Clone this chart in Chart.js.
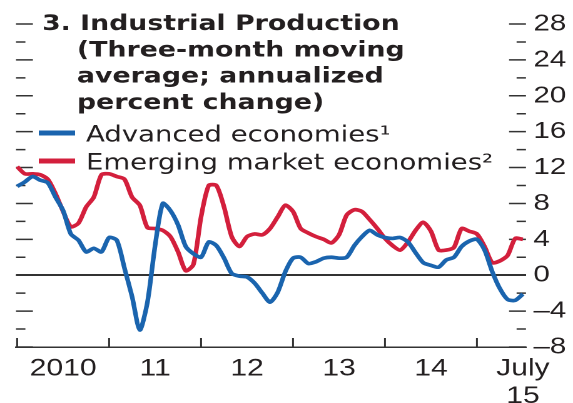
<!DOCTYPE html>
<html>
<head>
<meta charset="utf-8">
<script src="https://cdn.jsdelivr.net/npm/chart.js@4"></script>
<style>
  html, body { margin: 0; padding: 0; background: #fff; overflow: hidden; }
  /* the reference is a horizontally stretched picture, so draw narrow and stretch */
  #wrap { width: 458px; height: 403px; transform: scaleX(1.2511); transform-origin: 0 0; }
</style>
</head>
<body>
<div id="wrap"><canvas id="chart"></canvas></div>
<script>
// monthly, Jan 2010 .. Jul 2015
const advanced = [
  9.9, 10.4, 11.0, 10.6, 10.3, 8.7, 7.2, 4.6, 3.9, 2.6, 3.0, 2.6,
  4.2, 3.9, 0.8, -2.4, -6.1, -3.0, 3.3, 8.0, 7.2, 5.6, 3.2, 2.4,
  2.0, 3.7, 3.3, 1.9, 0.2, -0.1, -0.2, -0.9, -2.0, -3.0, -1.9, 0.4,
  1.9, 2.0, 1.3, 1.5, 1.9, 2.0, 1.9, 2.0, 3.3, 4.3, 5.0, 4.5,
  4.2, 4.1, 4.2, 3.7, 2.5, 1.4, 1.1, 0.9, 1.7, 2.0, 3.2, 3.8,
  4.0, 2.8, 0.4, -1.5, -2.7, -2.8, -2.1
];
const emerging = [
  12.1, 11.3, 11.3, 11.2, 10.7, 9.1, 7.1, 5.4, 5.8, 7.6, 8.7, 11.2,
  11.3, 11.0, 10.7, 8.7, 7.8, 5.3, 5.2, 5.0, 4.3, 2.6, 0.5, 1.2,
  6.5, 10.0, 10.0, 7.6, 4.3, 3.2, 4.3, 4.6, 4.5, 5.2, 6.5, 7.8,
  7.1, 5.2, 4.7, 4.3, 4.0, 3.6, 4.5, 6.7, 7.3, 7.1, 6.2, 5.2,
  4.1, 3.3, 2.8, 3.7, 5.0, 5.9, 4.9, 2.8, 2.8, 3.1, 5.2, 4.9,
  4.6, 3.2, 1.4, 1.6, 2.2, 4.1, 4.0
];
const yearStarts = [0, 12, 24, 36, 48, 60];
const tickPos = [6, 18, 30, 42, 54, 66];
const tickLabels = ['2010', '11', '12', '13', '14', ['July', '15']];
const titleLines = ['3. Industrial Production', '(Three-month moving', 'average; annualized', 'percent change)'];
const seriesNames = ['Advanced economies\u00b9', 'Emerging market economies\u00b2'];

const BLUE = '#1a64ae';
const RED = '#d31f3c';
const INK = '#231f20';

const marks = {
  id: 'marks',
  beforeDatasetsDraw(chart) {
    const {ctx, chartArea: a, scales: {x, y}} = chart;
    ctx.save();
    ctx.strokeStyle = '#333';
    ctx.lineWidth = 1.5;
    ctx.beginPath();
    y.ticks.forEach(t => {
      const py = y.getPixelForValue(t.value);
      const len = t.value % 4 === 0 ? 13.5 : 7.5;
      ctx.moveTo(a.left, py); ctx.lineTo(a.left + len, py);
      ctx.moveTo(a.right - len, py); ctx.lineTo(a.right, py);
    });
    yearStarts.forEach(m => {
      const px = x.getPixelForValue(m);
      ctx.moveTo(px, a.bottom); ctx.lineTo(px, a.bottom - 9);
    });
    ctx.stroke();
    ctx.restore();
  },
  afterDraw(chart) {
    const ctx = chart.ctx;
    ctx.save();
    ctx.fillStyle = INK;
    ctx.textBaseline = 'alphabetic';
    ctx.font = 'bold 21.4px "DejaVu Sans"';
    titleLines.forEach((t, i) => {
      ctx.fillText(t, i === 0 ? 33.6 : 61.5, 30 + i * 26.3);
    });
    ctx.font = '22px "DejaVu Sans"';
    chart.data.datasets.forEach((ds, i) => {
      const ly = 133 + i * 28;
      ctx.strokeStyle = ds.borderColor;
      ctx.lineWidth = 5;
      ctx.beginPath();
      ctx.moveTo(31, ly); ctx.lineTo(60, ly);
      ctx.stroke();
      ctx.fillText(ds.label, 68.7, ly + 8.5);
    });
    ctx.restore();
  }
};

new Chart('chart', {
  type: 'line',
  data: {
    datasets: [
      { label: seriesNames[0], data: advanced.map((v, i) => ({x: i, y: v})), borderColor: BLUE },
      { label: seriesNames[1], data: emerging.map((v, i) => ({x: i, y: v})), borderColor: RED }
    ]
  },
  options: {
    responsive: true,
    maintainAspectRatio: false,
    animation: false,
    devicePixelRatio: 2,
    layout: { padding: { left: 12.8, top: 24, right: 0, bottom: 0 } },
    elements: {
      line: { borderWidth: 3.7, tension: 0.25, fill: false },
      point: { radius: 0 }
    },
    plugins: { legend: { display: false }, title: { display: false }, tooltip: { enabled: false } },
    scales: {
      x: {
        type: 'linear',
        min: -0.15,
        max: 66.4,
        afterBuildTicks: axis => { axis.ticks = tickPos.map(v => ({value: v})); },
        afterFit: s => { s.height = 56; s.paddingLeft = 0; s.paddingRight = 0; },
        grid: { display: false },
        border: { display: true, color: '#333', width: 1.5 },
        ticks: {
          autoSkip: false,
          maxRotation: 0,
          padding: 0,
          color: INK,
          font: { size: 24, family: 'Liberation Sans', lineHeight: 1.15 },
          callback: (v, i) => tickLabels[i]
        }
      },
      y: {
        position: 'right',
        min: -8,
        max: 28,
        afterFit: s => { s.width = 37.6; },
        border: { display: false },
        grid: {
          drawTicks: false,
          lineWidth: 2,
          color: c => (c.tick && c.tick.value === 0 ? '#333' : 'rgba(0,0,0,0)')
        },
        ticks: {
          stepSize: 2,
          autoSkip: false,
          padding: 6,
          color: INK,
          font: { size: 23.5, family: 'Liberation Sans' },
          callback: v => (v % 4 !== 0 ? '' : (v < 0 ? '\u2013' + (-v) : '' + v))
        }
      }
    }
  },
  plugins: [marks]
});
</script>
</body>
</html>
